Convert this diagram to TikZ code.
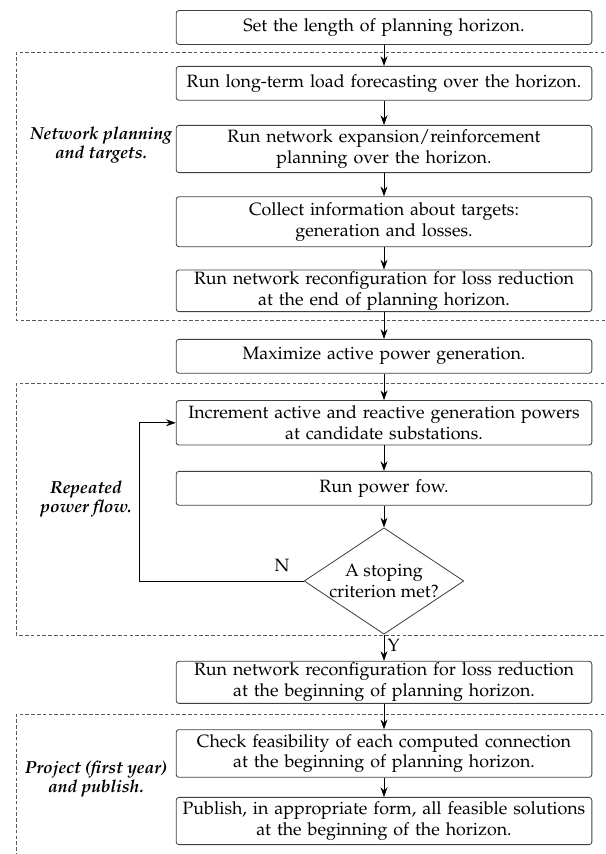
\documentclass[tikz,border=0pt]{standalone}
\usepackage[T1]{fontenc}
\usepackage{mathpazo}
\usetikzlibrary{arrows.meta,shapes.geometric,positioning}

\newcommand{\boxfont}{\fontsize{12.9pt}{15pt}\selectfont}
\newcommand{\labfont}{\fontsize{12.6pt}{12.3pt}\selectfont\bfseries\itshape}

\tikzset{
  stepbox/.style={draw=black!75, rounded corners=2pt, align=center, text width=10.3cm, inner xsep=0.13cm, inner ysep=1pt, minimum height=0.86cm},
  testnode/.style={draw=black!75, diamond, aspect=1.5, align=center, inner sep=0pt, minimum width=3.96cm, minimum height=2.63cm},
  groupframe/.style={draw=black!65, dash pattern=on 2.6pt off 1.6pt},
  grouplabel/.style={font=\labfont, align=center},
  flow/.style={-{Stealth[length=7pt,width=5pt]}, black},
}

\begin{document}
\begin{tikzpicture}[x=0.0254cm, y=-0.0254cm, line width=0.6pt, line join=round, every node/.style={font=\boxfont}]
  \useasboundingbox (0,0) rectangle (606,854);

  % dashed groups
  \draw[groupframe] (610,52.3) -- (16.3,52.3) -- (16.3,320) -- (610,320);
  \draw[groupframe] (610,383.3) -- (16.3,383.3) -- (16.3,635) -- (610,635);
  \draw[groupframe] (610,714.7) -- (16.3,714.7) -- (16.3,860);

  % steps
  \node[stepbox] (horizon) at (384,27.5) {Set the length of planning horizon.};
  \node[stepbox] (forecast) at (384,83.3) {Run long-term load forecasting over the horizon.};
  \node[stepbox, minimum height=1.2cm] (expand) at (384,149) {Run network expansion/reinforcement\\planning over the horizon.};
  \node[stepbox, minimum height=1.27cm] (targets) at (384,221.7) {Collect information about targets:\\generation and losses.};
  \node[stepbox, minimum height=1.06cm] (reconfend) at (384,290.8) {Run network reconfiguration for loss reduction\\at the end of planning horizon.};
  \node[stepbox] (maxgen) at (384,356.3) {Maximize active power generation.};
  \node[stepbox, minimum height=1.13cm] (increment) at (384,422.8) {Increment active and reactive generation powers\\at candidate substations.};
  \node[stepbox] (powerflow) at (384,488.3) {Run power fow.};
  \node[testnode] (stop) at (384,581) {A stoping\\criterion met?};
  \node[stepbox, minimum height=1.07cm] (reconfbeg) at (384,682.3) {Run network reconfiguration for loss reduction\\at the beginning of planning horizon.};
  \node[stepbox, minimum height=1.21cm] (feasible) at (384,753.5) {Check feasibility of each computed connection\\at the beginning of planning horizon.};
  \node[stepbox, minimum height=1.2cm] (publish) at (384,821) {Publish, in appropriate form, all feasible solutions\\at the beginning of the horizon.};

  % group labels
  \node[grouplabel] (netlab) at (101,145) {Network planning\\and targets.};
  \node[grouplabel] (pflab) at (86,499) {Repeated\\power flow.};
  \node[grouplabel] (projlab) at (96,779) {Project (first year)\\and publish.};

  % connectors
  \draw[flow] (horizon) -- (forecast);
  \draw[flow] (forecast) -- (expand);
  \draw[flow] (expand) -- (targets);
  \draw[flow] (targets) -- (reconfend);
  \draw[flow] (reconfend) -- (maxgen);
  \draw[flow] (maxgen) -- (increment);
  \draw[flow] (increment) -- (powerflow);
  \draw[flow] (powerflow) -- (stop);
  \draw[flow] (stop) -- (reconfbeg);
  \draw[flow] (reconfbeg) -- (feasible);
  \draw[flow] (feasible) -- (publish);

  % loop back
  \coordinate (back) at (139.3,581);
  \draw[flow] (stop.west) -- (back) |- (increment.west);
  \node (nlab) at (282,566) {N};
  \node (ylab) at (393.5,645) {Y};
\end{tikzpicture}
\end{document}
